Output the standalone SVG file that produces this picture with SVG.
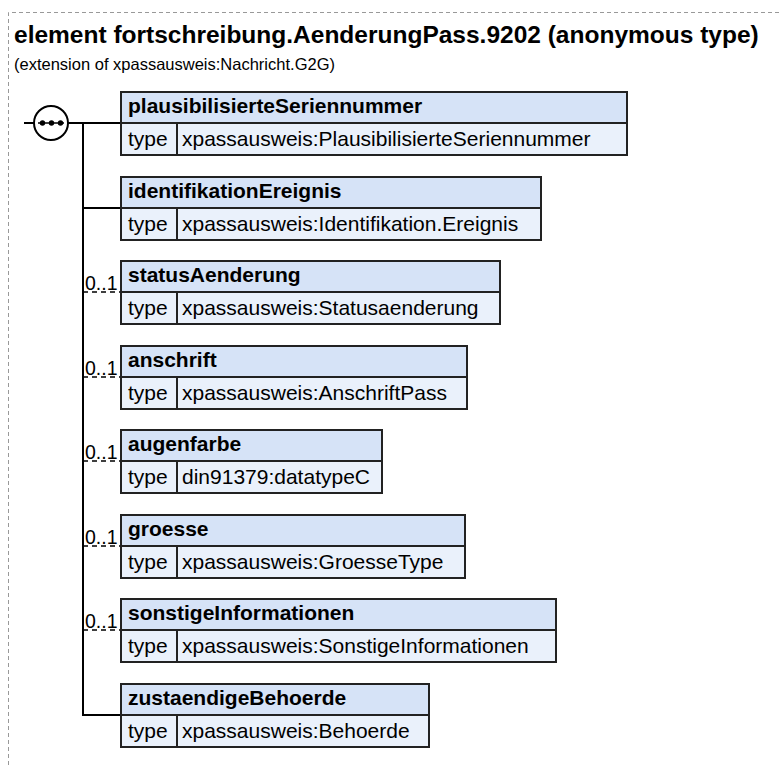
<svg xmlns="http://www.w3.org/2000/svg" width="779" height="767" viewBox="0 0 779 767">
<style>
.frame{fill:none;stroke:#999;stroke-width:1;stroke-dasharray:4,3}
.title{font-family:"Liberation Sans",Arial,sans-serif;font-size:24.5px;font-weight:bold;fill:#000}
.sub{font-family:"Liberation Sans",Arial,sans-serif;font-size:16.5px;fill:#000}
.hdr{fill:#d6e3f7;stroke:#222;stroke-width:2}
.row{fill:#eaf1fb;stroke:#222;stroke-width:2}
.name{font-family:"Liberation Sans",Arial,sans-serif;font-size:21px;font-weight:bold;fill:#000}
.txt{font-family:"Liberation Sans",Arial,sans-serif;font-size:21px;fill:#000}
.card{font-family:"Liberation Sans",Arial,sans-serif;font-size:19.5px;fill:#000}
.ln{fill:none;stroke:#000;stroke-width:2}
.dash{fill:none;stroke:#000;stroke-width:1.5;stroke-dasharray:5,4}
</style>
<path class="frame" d="M8.5,779 V12.5 H779"/>
<text class="title" x="14" y="43">element fortschreibung.AenderungPass.9202 (anonymous type)</text>
<text class="sub" x="14" y="70">(extension of xpassausweis:Nachricht.G2G)</text>

<g id="connectors">
<line class="ln" x1="24" y1="123" x2="34" y2="123"/>
<line class="ln" x1="68" y1="123" x2="121" y2="123"/>
<polyline class="ln" points="83,123 83,715 121,715"/>
<line class="ln" x1="83" y1="208" x2="121" y2="208"/>
<line class="dash" x1="83" y1="292" x2="121" y2="292"/>
<line class="dash" x1="83" y1="377" x2="121" y2="377"/>
<line class="dash" x1="83" y1="461" x2="121" y2="461"/>
<line class="dash" x1="83" y1="546" x2="121" y2="546"/>
<line class="dash" x1="83" y1="630" x2="121" y2="630"/>
<text class="card" x="85" y="290">0..1</text>
<text class="card" x="85" y="375">0..1</text>
<text class="card" x="85" y="459">0..1</text>
<text class="card" x="85" y="544">0..1</text>
<text class="card" x="85" y="628">0..1</text>
</g>

<g id="sequence">
<circle cx="51" cy="123" r="17" fill="#fff" stroke="#000" stroke-width="2"/>
<line x1="38" y1="123" x2="64" y2="123" stroke="#000" stroke-width="1.5"/>
<circle cx="42.5" cy="123" r="2.7"/>
<circle cx="51.5" cy="123" r="2.7"/>
<circle cx="60.5" cy="123" r="2.7"/>
</g>

<g id="plausibilisierteSeriennummer">
<rect class="hdr" x="121" y="92" width="506" height="31"/>
<rect class="row" x="121" y="123" width="56" height="32"/>
<rect class="row" x="177" y="123" width="450" height="32"/>
<text class="name" x="128" y="113">plausibilisierteSeriennummer</text>
<text class="txt" x="128" y="146">type</text>
<text class="txt" x="182" y="146">xpassausweis:PlausibilisierteSeriennummer</text>
</g>

<g id="identifikationEreignis">
<rect class="hdr" x="121" y="177" width="420" height="31"/>
<rect class="row" x="121" y="208" width="56" height="32"/>
<rect class="row" x="177" y="208" width="364" height="32"/>
<text class="name" x="128" y="198">identifikationEreignis</text>
<text class="txt" x="128" y="231">type</text>
<text class="txt" x="182" y="231">xpassausweis:Identifikation.Ereignis</text>
</g>

<g id="statusAenderung">
<rect class="hdr" x="121" y="261" width="379" height="31"/>
<rect class="row" x="121" y="292" width="56" height="32"/>
<rect class="row" x="177" y="292" width="323" height="32"/>
<text class="name" x="128" y="282">statusAenderung</text>
<text class="txt" x="128" y="315">type</text>
<text class="txt" x="182" y="315">xpassausweis:Statusaenderung</text>
</g>

<g id="anschrift">
<rect class="hdr" x="121" y="346" width="346" height="31"/>
<rect class="row" x="121" y="377" width="56" height="32"/>
<rect class="row" x="177" y="377" width="290" height="32"/>
<text class="name" x="128" y="367">anschrift</text>
<text class="txt" x="128" y="400">type</text>
<text class="txt" x="182" y="400">xpassausweis:AnschriftPass</text>
</g>

<g id="augenfarbe">
<rect class="hdr" x="121" y="430" width="261" height="31"/>
<rect class="row" x="121" y="461" width="56" height="32"/>
<rect class="row" x="177" y="461" width="205" height="32"/>
<text class="name" x="128" y="451">augenfarbe</text>
<text class="txt" x="128" y="484">type</text>
<text class="txt" x="182" y="484">din91379:datatypeC</text>
</g>

<g id="groesse">
<rect class="hdr" x="121" y="515" width="344" height="31"/>
<rect class="row" x="121" y="546" width="56" height="32"/>
<rect class="row" x="177" y="546" width="288" height="32"/>
<text class="name" x="128" y="536">groesse</text>
<text class="txt" x="128" y="569">type</text>
<text class="txt" x="182" y="569">xpassausweis:GroesseType</text>
</g>

<g id="sonstigeInformationen">
<rect class="hdr" x="121" y="599" width="435" height="31"/>
<rect class="row" x="121" y="630" width="56" height="32"/>
<rect class="row" x="177" y="630" width="379" height="32"/>
<text class="name" x="128" y="620">sonstigeInformationen</text>
<text class="txt" x="128" y="653">type</text>
<text class="txt" x="182" y="653">xpassausweis:SonstigeInformationen</text>
</g>

<g id="zustaendigeBehoerde">
<rect class="hdr" x="121" y="684" width="308" height="31"/>
<rect class="row" x="121" y="715" width="56" height="32"/>
<rect class="row" x="177" y="715" width="252" height="32"/>
<text class="name" x="128" y="705">zustaendigeBehoerde</text>
<text class="txt" x="128" y="738">type</text>
<text class="txt" x="182" y="738">xpassausweis:Behoerde</text>
</g>
</svg>
